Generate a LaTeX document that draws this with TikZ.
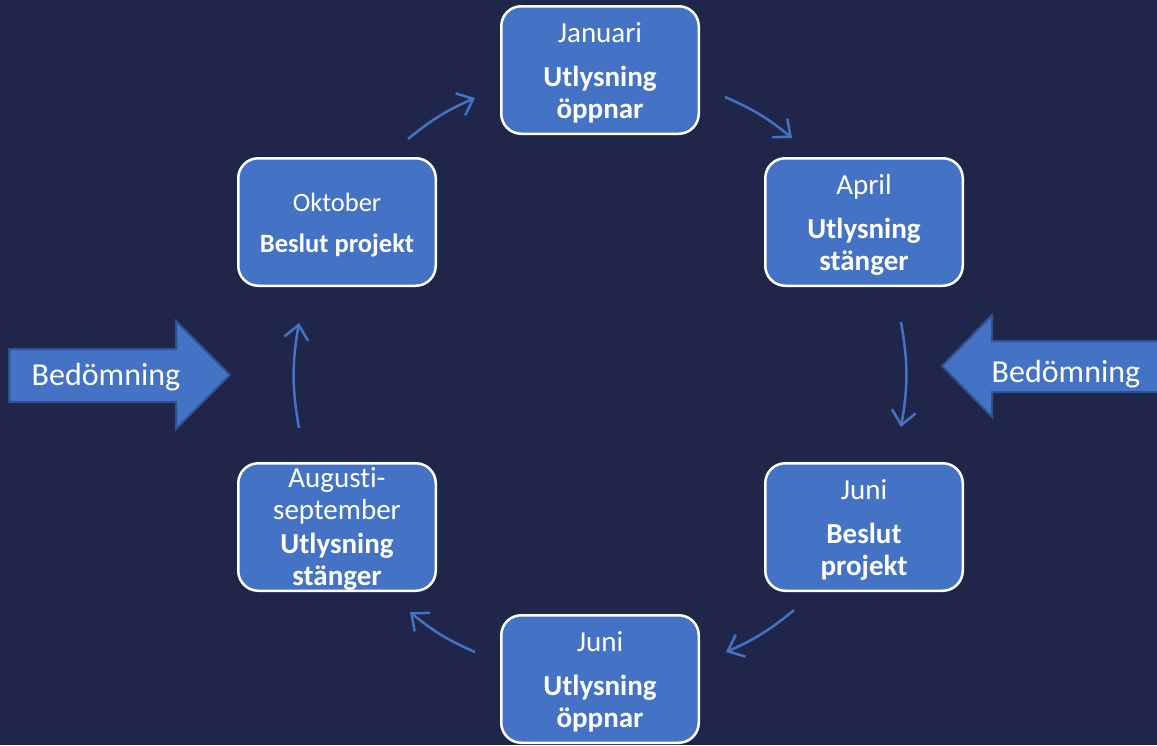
\documentclass[tikz,border=0pt]{standalone}
\usepackage{fontspec}
\setmainfont[Ligatures=NoCommon]{Carlito}
\usetikzlibrary{arrows.meta}
\definecolor{navy}{RGB}{32,37,74}
\definecolor{boxblue}{RGB}{68,114,196}
\definecolor{edgeblue}{RGB}{47,82,143}
\newcommand{\toprule}[1]{\rule{0pt}{#1}}
\begin{document}
\begin{tikzpicture}[x=1pt, y=-1pt,
	month/.style={draw=white, fill=boxblue, line width=2.5pt, rounded corners=20pt,
		minimum width=197.5pt, minimum height=127.5pt, inner sep=0pt,
		text=white, align=center, font=\fontsize{29}{32}\selectfont},
	flow/.style={boxblue, line width=2.5pt, -{Straight Barb[length=14pt, width=24pt]}},
	bigarrow/.style={fill=boxblue, draw=edgeblue, line width=2pt},
	bigtext/.style={text=white, anchor=base, font=\fontsize{32}{36}\selectfont}]
		\useasboundingbox (0,0) rectangle (1157,745);
		\fill[navy] (0,0) rectangle (1157,745);
		
		\draw[bigarrow] (9,349) -- (176,349) -- (176,321) -- (230,375) -- (176,429)
			-- (176,402) -- (9,402) -- cycle;
		\draw[bigarrow] (1175,341) -- (992,341) -- (992,315) -- (942,366) -- (992,417)
			-- (992,392) -- (1175,392) -- cycle;
		\node[bigtext] (bedleft) at (106,385) {Bedömning};
		\node[bigtext] (bedright) at (1066,382) {Bedömning};
		
		\node[month] (jan) at (600,70) {\toprule{26pt}Januari\\[12pt]\textbf{Utlysning}\\\textbf{öppnar}};
		\node[month] (apr) at (864,222) {\toprule{26pt}April\\[12pt]\textbf{Utlysning}\\\textbf{stänger}};
		\node[month] (junbeslut) at (864,527) {\toprule{26pt}Juni\\[12pt]\textbf{Beslut}\\\textbf{projekt}};
		\node[month] (junoppnar) at (600,679) {\toprule{26pt}Juni\\[12pt]\textbf{Utlysning}\\\textbf{öppnar}};
		\node[month] (aug) at (337,527) {\toprule{23pt}Augusti-\\september\\[2pt]\textbf{Utlysning}\\\textbf{stänger}};
		\node[month, font=\fontsize{26.5}{29}\selectfont] (okt) at (337,222)
			{\toprule{24pt}Oktober\\[12pt]\textbf{Beslut projekt}};
		
		\draw[flow] ([xshift=71pt, yshift=18pt]okt.north) to[bend left=8]
			([xshift=-25pt, yshift=-28pt]jan.west);
		\draw[flow] ([xshift=25pt, yshift=-27pt]jan.east) to[bend left=8]
			([xshift=-72pt, yshift=19pt]apr.north);
		\draw[flow] ([xshift=37pt, yshift=-35pt]apr.south) to[bend left=10]
			([xshift=37pt, yshift=35pt]junbeslut.north);
		\draw[flow] ([xshift=-70pt, yshift=-18pt]junbeslut.south) to[bend left=8]
			([xshift=26pt, yshift=27pt]junoppnar.east);
		\draw[flow] ([xshift=-25pt, yshift=27pt]junoppnar.west) to[bend left=8]
			([xshift=73pt, yshift=-20pt]aug.south);
		\draw[flow] ([xshift=-38pt, yshift=34pt]aug.north) to[bend left=10]
			([xshift=-38pt, yshift=-36pt]okt.south);
	\end{tikzpicture}
\end{document}
